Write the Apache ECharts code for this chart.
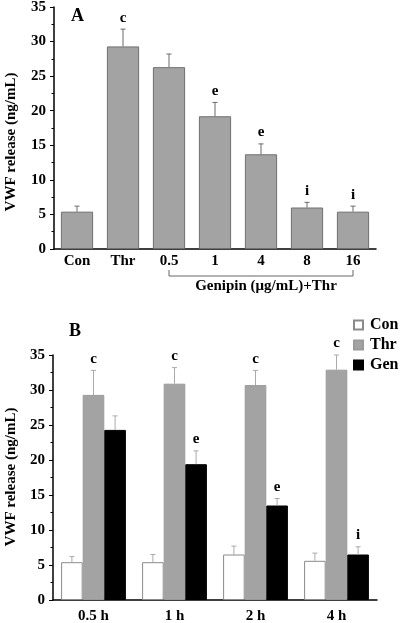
<!DOCTYPE html>
<html><head><meta charset="utf-8">
<script src="https://cdn.jsdelivr.net/npm/echarts@6/dist/echarts.min.js"></script>
<style>html,body{margin:0;padding:0;background:#fff}#c{width:400px;height:623px}</style>
</head><body><div id="c"></div>
<script>
const catsA = ['Con','Thr','0.5','1','4','8','16'];
const meanA = [5.4, 29.3, 26.3, 19.2, 13.7, 6.0, 5.4];
const errA  = [0.8, 2.5, 1.9, 2.0, 1.5, 0.75, 0.8];
const sigA  = ['', 'c', '', 'e', 'e', 'i', 'i'];

const catsB = ['0.5 h','1 h','2 h','4 h'];
const conB = [5.4, 5.4, 6.5, 5.6];
const conErrB = [0.8, 1.1, 1.2, 1.1];
const thrB = [29.3, 30.9, 30.7, 32.9];
const thrErrB = [3.5, 2.3, 2.1, 2.1];
const genB = [24.3, 19.4, 13.5, 6.5];
const genErrB = [2.0, 1.9, 1.0, 1.1];
const sigThrB = ['c','c','c','c'];
const sigGenB = ['', 'e', 'e', 'i'];
const yTicks = [0,5,10,15,20,25,30,35];
const yName = 'VWF release (ng/mL)';
const bracketLabel = 'Genipin (\u03bcg/mL)+Thr';

const FONT = '"Liberation Serif", "Times New Roman", serif';
const chart = echarts.init(document.getElementById('c'));

function yAxisCommon(gi){
  return {
    type:'value', gridIndex:gi, min:yTicks[0], max:yTicks[yTicks.length-1], interval:5,
    axisLine:{show:true, lineStyle:{color:'#000', width:1.5}},
    axisTick:{show:true, length:4, lineStyle:{color:'#000', width:1}},
    minorTick:{show:true, splitNumber:2, length:2.5, lineStyle:{color:'#000', width:1}},
    splitLine:{show:false},
    axisLabel:{fontFamily:FONT, fontWeight:'bold', fontSize:15, color:'#000', margin:8}
  };
}
function xAxisCommon(gi, cats, margin){
  return {
    type:'category', gridIndex:gi, data:cats,
    axisLine:{show:true, lineStyle:{color:'#000', width:1.5}},
    axisTick:{show:false},
    axisLabel:{fontFamily:FONT, fontWeight:'bold', fontSize:15, color:'#000', margin:margin}
  };
}

function errItem(list, color, capW){
  return function(params, api){
    const ci = api.value(0), mean = api.value(1), err = api.value(2), k = api.value(3), nb = api.value(4);
    const letter = list[params.dataIndex].sig || '';
    const band = api.size([1,0])[0];
    const gapFrac = nb === 1 ? 0.3 : 0.2;
    const barW = band*(1-gapFrac)/nb;
    const c = api.coord([ci, mean]);
    const cx = c[0] + (k - (nb-1)/2)*barW;
    const top = api.coord([ci, mean+err])[1];
    const children = [
      {type:'line', shape:{x1:cx, y1:c[1], x2:cx, y2:top}, style:{stroke:color, lineWidth:1}},
      {type:'line', shape:{x1:cx-capW/2, y1:top, x2:cx+capW/2, y2:top}, style:{stroke:color, lineWidth:1}}
    ];
    if(letter){
      children.push({type:'text', style:{text:letter, x:cx, y:top-4, textAlign:'center', textVerticalAlign:'bottom',
        font:'bold 15px '+FONT, fill:'#000'}});
    }
    return {type:'group', children};
  };
}

const errDataA = meanA.map((m,i)=>({value:[i,m,errA[i],0,1], sig:sigA[i]}));
const errDataB = [];
conB.forEach((m,i)=>errDataB.push({value:[i,m,conErrB[i],0,3], sig:''}));
thrB.forEach((m,i)=>errDataB.push({value:[i,m,thrErrB[i],1,3], sig:sigThrB[i]}));
genB.forEach((m,i)=>errDataB.push({value:[i,m,genErrB[i],2,3], sig:sigGenB[i]}));

chart.setOption({
  animation:false,
  backgroundColor:'#fff',
  title:[
    {text:'A', left:71, top:7, padding:0, textStyle:{fontFamily:FONT, fontWeight:'bold', fontSize:18, color:'#000'}},
    {text:'B', left:69, top:322, padding:0, textStyle:{fontFamily:FONT, fontWeight:'bold', fontSize:18, color:'#000'}}
  ],
  legend:{
    orient:'vertical', left:353, top:317, padding:0, itemWidth:9, itemHeight:9, itemGap:4,
    icon:'rect', data:['Con','Thr','Gen'],
    textStyle:{fontFamily:FONT, fontWeight:'bold', fontSize:16, lineHeight:16, color:'#000', padding:[0,0,0,2]}
  },
  graphic:[
    {type:'text', x:11, y:142, rotation:Math.PI/2, style:{text:yName, textAlign:'center', textVerticalAlign:'middle',
      font:'bold 15px '+FONT, fill:'#000'}},
    {type:'text', x:11, y:477, rotation:Math.PI/2, style:{text:yName, textAlign:'center', textVerticalAlign:'middle',
      font:'bold 15px '+FONT, fill:'#000'}}
  ],
  grid:[
    {left:54, top:7, width:322, height:242, outerBoundsMode:'none', containLabel:false},
    {left:53, top:355, width:324, height:245, outerBoundsMode:'none', containLabel:false}
  ],
  xAxis:[xAxisCommon(0, catsA, 5), xAxisCommon(1, catsB, 9)],
  yAxis:[yAxisCommon(0), yAxisCommon(1)],
  series:[
    {type:'bar', xAxisIndex:0, yAxisIndex:0, data:meanA, barCategoryGap:'30%',
      itemStyle:{color:'#a3a3a3', borderColor:'#707070', borderWidth:1}},
    {type:'custom', xAxisIndex:0, yAxisIndex:0, data:errDataA, renderItem:errItem(errDataA,'#6a6a6a',5), z:5, clip:false},
    {type:'custom', xAxisIndex:0, yAxisIndex:0, data:[{value:[2,6]}], clip:false, z:5,
      renderItem:function(params, api){
        const p1 = api.coord([api.value(0), 0]);
        const p2 = api.coord([api.value(1), 0]);
        const y0 = p1[1];
        const mid = (p1[0]+p2[0])/2 + 5;
        return {type:'group', children:[
          {type:'polyline', shape:{points:[[p1[0],y0+21],[p1[0],y0+27],[p2[0],y0+27],[p2[0],y0+21]]},
            style:{stroke:'#666', lineWidth:1, fill:null}},
          {type:'text', style:{text:bracketLabel, x:mid, y:y0+37, textAlign:'center', textVerticalAlign:'middle',
            font:'bold 15px '+FONT, fill:'#000'}}
        ]};
      }},
    {name:'Con', type:'bar', xAxisIndex:1, yAxisIndex:1, data:conB, barCategoryGap:'20%', barGap:'0%',
      itemStyle:{color:'#ffffff', borderColor:'#8a8a8a', borderWidth:1}},
    {name:'Thr', type:'bar', xAxisIndex:1, yAxisIndex:1, data:thrB, barCategoryGap:'20%', barGap:'0%',
      itemStyle:{color:'#a3a3a3', borderColor:'#9a9a9a', borderWidth:1}},
    {name:'Gen', type:'bar', xAxisIndex:1, yAxisIndex:1, data:genB, barCategoryGap:'20%', barGap:'0%',
      itemStyle:{color:'#000000', borderColor:'#000', borderWidth:1}},
    {type:'custom', xAxisIndex:1, yAxisIndex:1, data:errDataB, renderItem:errItem(errDataB,'#aaaaaa',5), z:5, clip:false}
  ]
});
</script></body></html>
